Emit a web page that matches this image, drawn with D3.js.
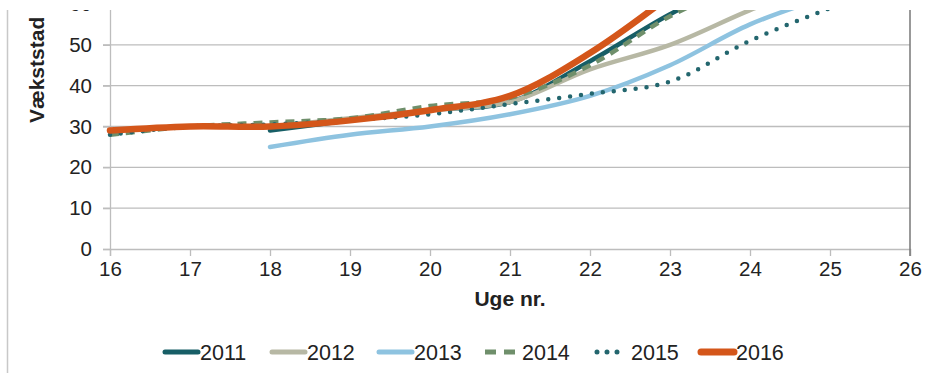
<!DOCTYPE html>
<html><head><meta charset="utf-8">
<script src="https://cdn.jsdelivr.net/npm/d3@7"></script>
<style>
html,body{margin:0;padding:0;background:#fff;}
svg{display:block;font-family:"Liberation Sans",Arial,sans-serif;}
</style></head>
<body>
<svg id="chart" width="930" height="373"></svg>
<script>
const weeks = [16,17,18,19,20,21,22,23,24,25,26];
const yTicks = [0,10,20,30,40,50,60];
const seriesNames = ["2011","2012","2013","2014","2015","2016"];
const s2011 = [null,null,29,31.5,34,36,46,57.5,67,null,null];
const s2012 = [null,null,30,32,34,36,44,50,58.5,66,null];
const s2013 = [null,null,25,28,30,33,37.5,45,55,62,null];
const s2014 = [28,30,31,32,35,37,45,57,66,null,null];
const s2015 = [28,30,30.5,31.5,33,35.5,38,41,51,59,66];
const s2016 = [29,30,30,31.5,34,37.5,48,62,null,null,null];
const seriesValues = [s2011,s2012,s2013,s2014,s2015,s2016];
const colors = ["#175e66","#b7b8a4","#8ec3e0","#6f8f6b","#23666e","#d4561a"];
const widths = [4.5,4.5,4.5,4.5,4.5,6.5];
const dashes = [null,null,null,"9,7","0,11",null];

const svg = d3.select("#chart");
const x = d3.scaleLinear().domain([16,26]).range([110,910]);
const y = d3.scaleLinear().domain([0,60]).range([249,4]);

// gridlines
svg.append("g").selectAll("line").data(yTicks.filter(d=>d>0)).join("line")
  .attr("x1",103).attr("x2",910).attr("y1",d=>y(d)).attr("y2",d=>y(d))
  .attr("stroke","#bdbdbd").attr("stroke-width",1.3);

// y axis
const ya = svg.append("g").attr("transform","translate(110,0)")
  .call(d3.axisLeft(y).tickValues(yTicks).tickSize(7).tickPadding(11));
ya.select(".domain").attr("stroke","#bdbdbd").attr("stroke-width",1.3);
ya.selectAll(".tick line").attr("stroke","#bdbdbd").attr("stroke-width",1.3);
ya.selectAll(".tick text").attr("font-size",20.5).attr("fill","#222").attr("font-family","Liberation Sans, Arial, sans-serif");

// x axis
const xa = svg.append("g").attr("transform","translate(0,249)")
  .call(d3.axisBottom(x).tickValues(weeks).tickFormat(d3.format("d")).tickSize(7).tickPadding(5));
xa.select(".domain").attr("stroke","#bdbdbd").attr("stroke-width",1.3);
xa.selectAll(".tick line").attr("stroke","#bdbdbd").attr("stroke-width",1.3);
xa.selectAll(".tick text").attr("font-size",20.5).attr("fill","#222").attr("font-family","Liberation Sans, Arial, sans-serif");

// right border
svg.append("line").attr("x1",910).attr("x2",910).attr("y1",y(60)).attr("y2",256)
  .attr("stroke","#777").attr("stroke-width",1.5);

// clip
svg.append("clipPath").attr("id","clip").append("rect")
  .attr("x",100).attr("y",10).attr("width",820).attr("height",250);

const line = d3.line().defined(d=>d.v!=null).x(d=>x(d.w)).y(d=>y(d.v))
  .curve(d3.curveCatmullRom.alpha(0.5));

const lg = svg.append("g").attr("clip-path","url(#clip)");
seriesValues.forEach((vals,i)=>{
  const data = weeks.map((w,j)=>({w:w,v:vals[j]}));
  const p = lg.append("path").attr("d",line(data)).attr("fill","none")
    .attr("stroke",colors[i]).attr("stroke-width",widths[i])
    .attr("stroke-linecap","round").attr("stroke-linejoin","round");
  if(dashes[i]) p.attr("stroke-dasharray",dashes[i]);
  if(i===3) p.attr("stroke-linecap","butt");
});

// top white band (cropped look)
svg.append("rect").attr("x",0).attr("y",0).attr("width",930).attr("height",10).attr("fill","#fff");

// image frame line on left
svg.append("line").attr("x1",7.5).attr("x2",7.5).attr("y1",10).attr("y2",373)
  .attr("stroke","#c8c8c8").attr("stroke-width",1.5);

// axis titles
svg.append("text").attr("x",510).attr("y",306).attr("text-anchor","middle")
  .attr("font-size",21).attr("font-weight","bold").attr("fill","#222").text("Uge nr.");
svg.append("text").attr("transform","translate(44,123) rotate(-90)")
  .attr("text-anchor","start").attr("font-size",21).attr("font-weight","bold").attr("fill","#222")
  .text("Vækststad");

// legend
const legX = [163,270,377,485,593,699];
const leg = svg.append("g");
seriesNames.forEach((n,i)=>{
  const g = leg.append("g").attr("transform",`translate(${legX[i]},352)`);
  const l = g.append("line").attr("x1",2).attr("x2",35).attr("y1",0).attr("y2",0)
    .attr("stroke",colors[i]).attr("stroke-width",i===5?7:5).attr("stroke-linecap","round");
  if(i===3) l.attr("stroke-dasharray","11,8").attr("stroke-linecap","butt").attr("x1",0).attr("x2",34);
  if(i===4) l.attr("stroke-dasharray","0,10").attr("x1",4).attr("x2",30);
  g.append("text").attr("x",i===4?38:37).attr("y",7.5).attr("font-size",21.5).attr("fill","#222").text(n);
});
</script>
</body></html>
